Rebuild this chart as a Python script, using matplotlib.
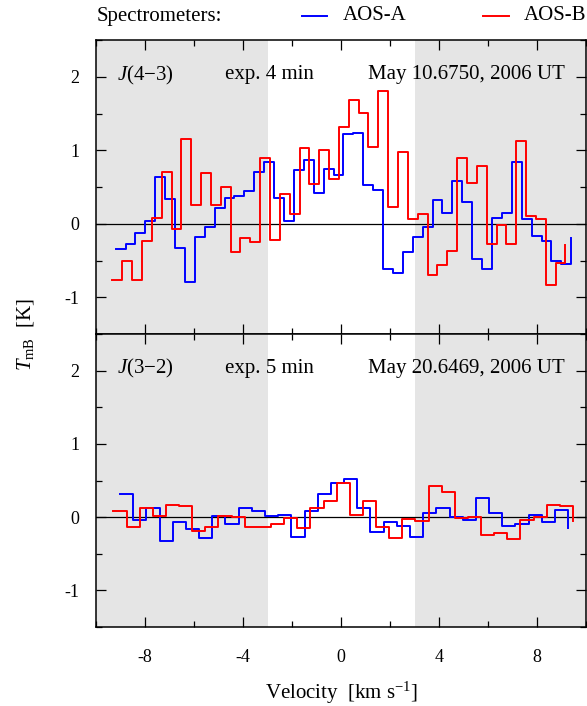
import numpy as np
import matplotlib
matplotlib.use("Agg")
import matplotlib.pyplot as plt
from matplotlib.lines import Line2D
from matplotlib.ticker import MultipleLocator

plt.rcParams['font.family'] = ['Liberation Serif', 'DejaVu Serif']
plt.rcParams['mathtext.fontset'] = 'custom'
plt.rcParams['mathtext.rm'] = 'Liberation Serif'
plt.rcParams['mathtext.it'] = 'Liberation Serif:italic'
plt.rcParams['axes.unicode_minus'] = False

# ---- data: channel grids (start velocity, channel width in km/s) ----
a43_start, a43_width = -9.20, 0.4043
b43_start, b43_width = -9.33, 0.402
a32_start, a32_width = -9.02, 0.538
b32_start, b32_width = -9.29, 0.536

# brightness temperatures (K); last entry is the trailing edge value
aosA_43 = [-0.34, -0.28, -0.12, 0.04, 0.64, 0.33, -0.33, -0.79, -0.18, -0.05,
           0.21, 0.35, 0.38, 0.45, 0.70, 0.84, 0.35, 0.04, 0.73, 0.87,
           0.42, 0.75, 0.67, 1.22, 1.24, 0.53, 0.46, -0.61, -0.67, -0.38,
           -0.18, -0.04, 0.32, 0.15, 0.58, 0.30, -0.48, -0.61, 0.08, 0.15,
           0.84, 0.07, -0.17, -0.24, -0.50, -0.55, -0.19]
aosB_43 = [-0.77, -0.50, -0.76, -0.24, 0.08, 0.71, -0.07, 1.15, 0.26, 0.69,
           0.26, 0.50, -0.39, -0.20, -0.25, 0.89, -0.22, 0.41, 0.13, 1.03,
           0.54, 1.00, 0.61, 1.32, 1.68, 1.51, 1.04, 1.80, 0.23, 0.98,
           0.07, 0.13, -0.70, -0.56, -0.37, 0.90, 0.55, 0.78, -0.28, -0.02,
           -0.27, 1.12, 0.10, 0.06, -0.84, -0.53, -0.29]
aosA_32 = [0.32, -0.04, 0.12, -0.32, -0.07, -0.16, -0.29, 0.02, -0.09, 0.12,
           0.09, 0.02, 0.03, -0.27, 0.08, 0.32, 0.46, 0.52, 0.12, -0.20,
           -0.07, -0.12, -0.27, 0.05, 0.12, 0.00, -0.04, 0.26, 0.05, -0.12,
           -0.09, 0.03, -0.07, 0.10, -0.15]
aosB_32 = [0.08, -0.14, 0.12, 0.01, 0.17, 0.15, -0.19, -0.13, 0.01, 0.00,
           -0.14, -0.14, -0.09, -0.01, -0.15, 0.13, 0.22, 0.46, 0.03, 0.22,
           -0.14, -0.29, -0.02, -0.05, 0.43, 0.34, -0.01, 0.00, -0.24, -0.22,
           -0.30, -0.04, 0.00, 0.16, 0.15, -0.05]

panel_lines = ["J(4\u22123)", "J(3\u22122)"]
panel_exp = ["exp. 4 min", "exp. 5 min"]
panel_dates = ["May 10.6750, 2006 UT", "May 20.6469, 2006 UT"]
series_names = ["AOS-A", "AOS-B"]
series_colors = ["#0000ff", "#ff0000"]
xticks = [-8, -4, 0, 4, 8]
yticks = [-1, 0, 1, 2]

W, H = 587, 706
fig = plt.figure(figsize=(W / 100, H / 100), dpi=100)
left = 96 / W
width = (586 - 96) / W
ax1 = fig.add_axes([left, 1 - 334 / H, width, 294 / H])
ax2 = fig.add_axes([left, 1 - 627 / H, width, 293 / H], sharex=ax1)

panels = [
    (ax1, [(a43_start, a43_width, aosA_43), (b43_start, b43_width, aosB_43)]),
    (ax2, [(a32_start, a32_width, aosA_32), (b32_start, b32_width, aosB_32)]),
]

for i, (ax, series) in enumerate(panels):
    ax.axvspan(-10, -3, color='#e5e5e5', lw=0, zorder=0)
    ax.axvspan(3, 10, color='#e5e5e5', lw=0, zorder=0)
    ax.axhline(0, color='black', lw=0.9, zorder=1)
    for (start, w, vals), col in zip(series, series_colors):
        vals = np.asarray(vals)
        x = start + w * np.arange(len(vals))
        ax.step(x, vals, where='post', color=col, lw=1.4, zorder=3)
    ax.set_xlim(-10, 10)
    ax.set_ylim(-1.5, 2.5)
    ax.xaxis.set_major_locator(MultipleLocator(4))
    ax.xaxis.set_minor_locator(MultipleLocator(2))
    ax.yaxis.set_major_locator(MultipleLocator(1))
    ax.yaxis.set_minor_locator(MultipleLocator(0.5))
    ax.set_yticks(yticks)
    ax.tick_params(which='both', direction='in', top=True, right=True,
                   width=0.9, labelsize=13)
    ax.tick_params(which='major', length=7)
    ax.tick_params(which='minor', length=4.5)
    ax.tick_params(axis='y', pad=12)
    ax.tick_params(axis='x', pad=16)
    for sp in ax.spines.values():
        sp.set_linewidth(1.1)
    lbl = panel_lines[i]
    ax.text(0.042, 0.881, r'$J$' + lbl[1:], transform=ax.transAxes,
            fontsize=15, va='center', ha='left')
    ax.text(0.263, 0.881, panel_exp[i], transform=ax.transAxes,
            fontsize=15, va='center', ha='left')
    ax.text(0.957, 0.881, panel_dates[i], transform=ax.transAxes,
            fontsize=15, va='center', ha='right')

ax1.set_xticks(xticks)
ax1.tick_params(axis='x', labelbottom=False)

# legend across the top
ly = 1 - 16 / H
fig.text(97 / W, ly, "Spectrometers:", fontsize=15, va='center', ha='left')
for (x0, x1, tx), name, col in zip([(301.5, 326.6, 342.7), (483, 508.6, 523.6)],
                                   series_names, series_colors):
    fig.add_artist(Line2D([x0 / W, x1 / W], [ly, ly], color=col, lw=1.4,
                          transform=fig.transFigure))
    fig.text(tx / W, ly, name, fontsize=15, va='center', ha='left')

fig.text(341 / W, 1 - 693 / H, r'Velocity  [km s$^{-1}$]', fontsize=15,
         ha='center', va='center')
fig.text(25 / W, 1 - 334 / H, r'$T_{\rm mB}$  [K]', fontsize=15,
         rotation=90, ha='center', va='center')

fig.savefig("out.png", dpi=100)
